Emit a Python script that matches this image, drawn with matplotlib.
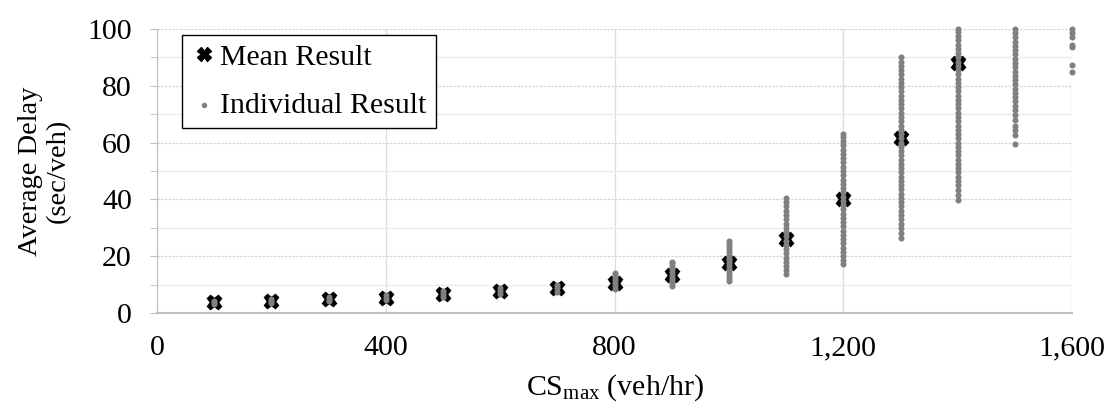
import numpy as np
import matplotlib
matplotlib.use("Agg")
import matplotlib.pyplot as plt
from matplotlib.ticker import MultipleLocator, FuncFormatter

plt.rcParams['font.family'] = ['Liberation Serif', 'DejaVu Serif']
plt.rcParams['mathtext.fontset'] = 'custom'
plt.rcParams['mathtext.rm'] = 'Liberation Serif'
plt.rcParams['mathtext.it'] = 'Liberation Serif:italic'

# mean delay for each CSmax value
cs_mean = [100, 200, 300, 400, 500, 600, 700, 800, 900, 1000, 1100, 1200, 1300, 1400]
delay_mean = [3.8, 4.2, 4.9, 5.4, 6.6, 7.7, 8.7, 10.7, 13.4, 17.5, 26.0, 40.0, 61.5, 88.0]

# individual runs
ind_100 = [3.2, 3.8, 4.3]
ind_200 = [3.6, 4.2, 4.8]
ind_300 = [4.2, 4.9, 5.6]
ind_400 = [4.6, 5.4, 6.3]
ind_500 = [5.7, 6.6, 7.6]
ind_600 = [6.6, 7.7, 8.8]
ind_700 = [7.5, 8.7, 10.0]
ind_800 = [8.5, 9.5, 10.5, 11.5, 12.5, 13.5, 14.0]
ind_900 = [9.5, 10.5, 11.5, 12.5, 13.5, 14.5, 15.5, 16.5, 17.5, 18.0]
ind_1000 = [11.4, 12.5, 13.5, 14.5, 15.5, 16.5, 17.5, 18.5, 19.5, 20.5, 21.5, 22.5,
            23.5, 24.5, 25.5]
ind_1100 = [13.7, 15, 16.5, 18, 19.5, 21, 22.5, 24, 25.5, 27, 28.5, 30, 31.5, 33,
            34.5, 36, 37.5, 39, 40.5]
ind_1200 = [17.3, 18.5, 20, 21.5, 23, 24.5, 26, 27.5, 29, 30.5, 32, 33.5, 35, 36.5,
            38, 39.5, 41, 42.5, 44, 45.5, 47, 48.5, 50, 51.5, 53, 54.5, 56, 57.5,
            59, 60.5, 62, 63]
ind_1300 = [26.4, 28.2, 30.0, 31.5, 33, 34.5, 36, 37.5, 39, 40.5, 42, 43.5, 45,
            46.5, 48, 49.5, 51, 52.5, 54, 55.5, 57, 58.5, 60, 61.5, 63, 64.5, 66,
            67.5, 69, 70.5, 72, 73.5, 75, 76.5, 78, 79.5, 81, 82.5, 84, 85.5, 87,
            88.5, 90]
ind_1400 = [39.8, 41.6, 43.4, 45, 46.5, 48, 49.5, 51, 52.5, 54, 55.5, 57, 58.5,
            60, 61.5, 63, 64.5, 66, 67.5, 69, 70.5, 72, 73.5, 75, 76.5, 78, 79.5,
            81, 82.5, 84, 85.5, 87, 88.5, 90, 91.5, 93, 94.5, 96, 97.5, 99, 100]
ind_1500 = [59.5, 62.7, 64.4, 66, 68, 69.7, 71.5, 73, 74.5, 76, 77.5, 79, 80.5,
            82, 83.5, 85, 86.5, 88, 89.5, 91, 92.5, 94, 95.5, 97, 98.5, 100]
ind_1600 = [85, 87.3, 93.8, 94.4, 97.3, 98.5, 99.9]

groups = [(100, ind_100), (200, ind_200), (300, ind_300), (400, ind_400),
          (500, ind_500), (600, ind_600), (700, ind_700), (800, ind_800),
          (900, ind_900), (1000, ind_1000), (1100, ind_1100), (1200, ind_1200),
          (1300, ind_1300), (1400, ind_1400), (1500, ind_1500), (1600, ind_1600)]
ind_x = []
ind_y = []
for cs, vals in groups:
    ind_x += [cs] * len(vals)
    ind_y += vals

fs = 21.5

fig = plt.figure(figsize=(11.18, 4.13), dpi=100)
ax = fig.add_axes([0.1404, 0.242, 0.8186, 0.688])

ax.plot(cs_mean, delay_mean, 'X', color='black', markersize=10.5, ls='None',
        label='Mean Result', zorder=3)
ax.scatter(ind_x, ind_y, s=19, color='#808080', label='Individual Result',
           zorder=4, clip_on=False, linewidths=0)

ax.set_xlim(0, 1600)
ax.set_ylim(0, 100)
ax.xaxis.set_major_locator(MultipleLocator(400))
ax.yaxis.set_major_locator(MultipleLocator(20))
ax.yaxis.set_minor_locator(MultipleLocator(10))
ax.xaxis.set_major_formatter(FuncFormatter(lambda v, p: '{:,.0f}'.format(v)))

ax.grid(True, which='major', axis='y', color='#d4d4d4', lw=0.9, ls=(0, (2, 1)))
ax.grid(True, which='minor', axis='y', color='#ececec', lw=1.0)
ax.grid(True, which='major', axis='x', color='#dcdcdc', lw=0.9)
ax.set_axisbelow(True)

for s in ['top', 'right']:
    ax.spines[s].set_visible(False)
ax.spines['left'].set_color('#bfbfbf')
ax.spines['bottom'].set_color('#bfbfbf')
ax.spines['bottom'].set_linewidth(1.5)

ax.tick_params(axis='x', length=0, labelsize=fs, pad=16)
ax.tick_params(axis='y', which='major', length=5, color='#bfbfbf', labelsize=fs, pad=13)
ax.tick_params(axis='y', which='minor', length=5, color='#bfbfbf')

ax.set_xlabel(r'CS$_\mathregular{max}$ (veh/hr)', fontsize=fs, labelpad=8)
ax.set_ylabel('Average Delay\n(sec/veh)', fontsize=20.5, labelpad=12, linespacing=1.15)

leg = ax.legend(loc='upper left', bbox_to_anchor=(0.027, 0.979), borderaxespad=0,
                fontsize=fs, fancybox=False, edgecolor='black', framealpha=1,
                handletextpad=0.1, handlelength=0.9, labelspacing=0.7,
                borderpad=0.3, markerscale=0.9)
leg.get_frame().set_linewidth(1.0)

plt.savefig('out.png', dpi=100)
